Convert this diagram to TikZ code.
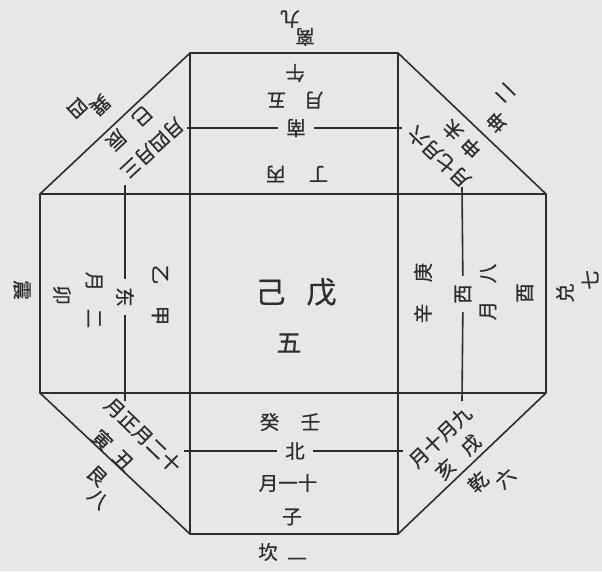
\documentclass[tikz,border=0pt]{standalone}
\usepackage{fontspec}
\newfontfamily\hz[FakeBold=0.5]{Noto Sans CJK SC}
\definecolor{paper}{RGB}{231,231,229}
\definecolor{ink}{RGB}{45,45,45}
\begin{document}
\begin{tikzpicture}[x=1pt,y=-1pt,line width=1.6pt,color=ink,
 wen/.style={font=\hz\fontsize{19.5}{19.5}\selectfont,inner sep=1pt},
 da/.style={font=\hz\fontsize{30}{30}\selectfont,inner sep=1pt},
 fang/.style={wen,inner sep=7.5pt}]
\useasboundingbox (0,0) rectangle (602,571);
\fill[paper] (0,0) rectangle (602,571);
\draw (190,53) -- (398,53) -- (546,194) -- (546,393) -- (398,534) -- (190,534) -- (40,393) -- (40,194) -- cycle;
\draw (190,53) -- (190,534) (398,53) -- (398,534);
\draw (40,194) -- (546,194) (40,393) -- (546,393);
\node[da] (wuji) at (296,292) {己\hspace{.7em}戊};
\node[wen,font=\hz\fontsize{25}{25}\selectfont] (wu5) at (289,343) {五};
\node[wen,rotate=180] (li) at (305,37) {离};
\node[wen,rotate=180] (jiu) at (290,19) {九};
\node[wen,rotate=180] (wu) at (295,73) {午};
\node[wen,rotate=180] (wuyue) at (295,100) {月\hspace{.9em}五};
\node[fang,rotate=180] (nan) at (296,128) {南};
\node[wen,rotate=180] (bingding) at (297,174) {丁\hspace{1.2em}丙};
\node[fang,rotate=-90] (dong) at (125,297) {东};
\node[wen,rotate=-90] (jiayi) at (160,295) {乙\hspace{1.1em}甲};
\node[wen,rotate=-90] (eryue) at (94,300) {月\hspace{.9em}二};
\node[wen,rotate=-90] (mao) at (62,295) {卯};
\node[wen,rotate=-90] (zhen) at (22,290) {震};
\node[fang,rotate=90] (xi) at (463,294) {西};
\node[wen,rotate=90] (gengxin) at (423,293) {辛\hspace{1.1em}庚};
\node[wen,rotate=90] (bayue) at (488,292) {月\hspace{.9em}八};
\node[wen,rotate=90] (you) at (525,293) {酉};
\node[wen,rotate=90] (dui) at (565,293) {兑};
\node[wen,rotate=90] (qi) at (590,280) {七};
\node[wen] (guiren) at (290,422) {癸\hspace{1.1em}壬};
\node[fang] (bei) at (295,451) {北};
\node[wen] (shiyi) at (288,483) {月一十};
\node[wen] (zi) at (292,517) {子};
\node[wen] (kan) at (268,552) {坎};
\node[wen] (yi) at (297,562) {一};
\node[wen,rotate=223] (sansi) at (152,148) {月四月三};
\node[wen,rotate=223] (chensi) at (129,128) {巳\hspace{.8em}辰};
\node[wen,rotate=223] (xun) at (100,105) {巽};
\node[wen,rotate=223] (si) at (77,108) {四};
\node[wen,rotate=136] (liuqi) at (439,157) {月七月六};
\node[wen,rotate=136] (weishen) at (462,139) {申\hspace{.3em}未};
\node[wen,rotate=136] (kun) at (497,122) {坤};
\node[wen,rotate=136] (er) at (505,93) {二};
\node[wen,rotate=44] (jiushi) at (440,437) {月十月九};
\node[wen,rotate=44] (xuhai) at (458,457) {亥\hspace{.8em}戌};
\node[wen,rotate=44] (qian) at (478,482) {乾};
\node[wen,rotate=44] (liu) at (505,478) {六};
\node[wen,rotate=-44] (zheng) at (143,435) {月正月二十};
\node[wen,rotate=-44] (chouyin) at (113,450) {寅\hspace{.5em}丑};
\node[wen,rotate=-44] (gen) at (97,476) {艮};
\node[wen,rotate=-44] (ba) at (98,499) {八};
\coordinate (nanW) at (187,128); \coordinate (nanE) at (402,128);
\coordinate (dongN) at (125,185); \coordinate (dongS) at (125,401);
\coordinate (xiN) at (462,187); \coordinate (xiS) at (462,401);
\coordinate (beiW) at (184,451); \coordinate (beiE) at (403,451);
\draw (nanW) -- (nan) -- (nanE);
\draw (dongN) -- (dong) -- (dongS);
\draw (xiN) -- (xi) -- (xiS);
\draw (beiW) -- (bei) -- (beiE);
\end{tikzpicture}
\end{document}
